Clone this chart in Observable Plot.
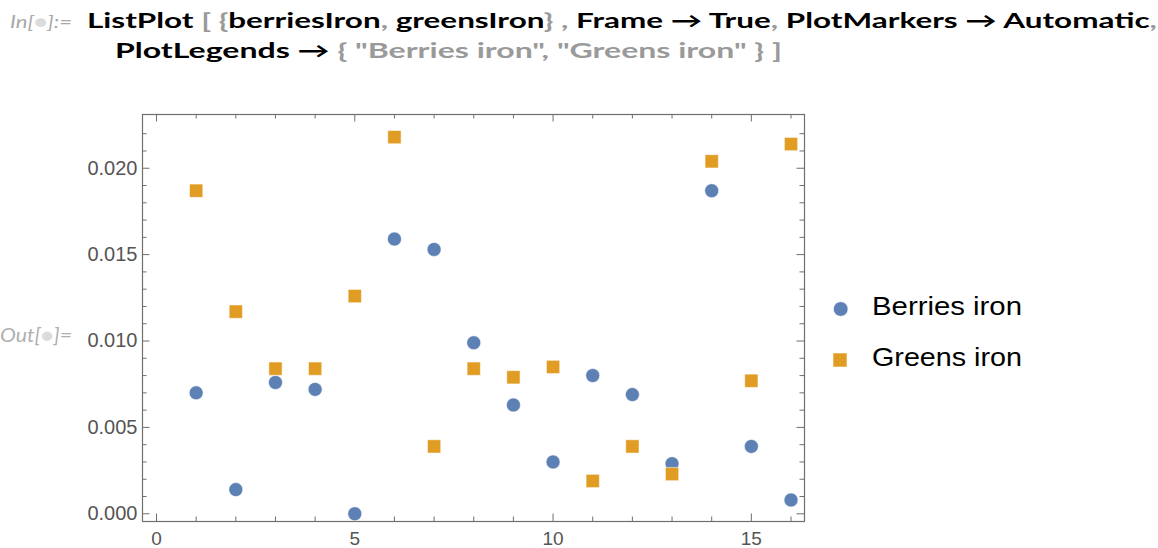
<!DOCTYPE html>
<html>
<head>
<meta charset="utf-8">
<script src="https://cdn.jsdelivr.net/npm/d3@7"></script>
<script src="https://cdn.jsdelivr.net/npm/@observablehq/plot@0.6"></script>
<style>
  html, body { margin: 0; padding: 0; background: #fff; }
  #wrap { position: relative; width: 1158px; height: 548px; overflow: hidden; background: #fff; }
  #chart { position: absolute; left: 0; top: 100px; }
  #overlay { position: absolute; left: 0; top: 0; }
</style>
</head>
<body>
<div id="wrap">
  <div id="chart"></div>
  <svg id="overlay" width="1158" height="548"></svg>
</div>
<script>
// ---- data ----
const index = [1, 2, 3, 4, 5, 6, 7, 8, 9, 10, 11, 12, 13, 14, 15, 16];
const berriesIron = [0.0070, 0.0014, 0.0076, 0.0072, 0.0000, 0.0159, 0.0153, 0.0099, 0.0063, 0.0030, 0.0080, 0.0069, 0.0029, 0.0187, 0.0039, 0.0008];
const greensIron  = [0.0187, 0.0117, 0.0084, 0.0084, 0.0126, 0.0218, 0.0039, 0.0084, 0.0079, 0.0085, 0.0019, 0.0039, 0.0023, 0.0204, 0.0077, 0.0214];
const seriesNames = ["Berries iron", "Greens iron"];
const seriesColors = ["#5e81b5", "#e19c24"];
const xMajorTicks = [0, 5, 10, 15];
const xMinorTicks = [1, 2, 3, 4, 6, 7, 8, 9, 11, 12, 13, 14, 16];
const yMajorTicks = [0, 0.005, 0.010, 0.015, 0.020];
const yMinorTicks = [0.001, 0.002, 0.003, 0.004, 0.006, 0.007, 0.008, 0.009, 0.011, 0.012, 0.013, 0.014, 0.016, 0.017, 0.018, 0.019, 0.021, 0.022];

const berries = index.map((x, i) => ({x, y: berriesIron[i]}));
const greens = index.map((x, i) => ({x, y: greensIron[i]}));

// ---- layout ----
const W = 820, H = 448;
const mL = 142, mR = 16, mT = 14, mB = 27;
const innerW = W - mL - mR, innerH = H - mT - mB;
const major = 7.5, minor = 4.5;
const frameColor = "#6e6e6e";

const chart = Plot.plot({
  width: W, height: H,
  marginLeft: mL, marginRight: mR, marginTop: mT, marginBottom: mB,
  x: {domain: [-0.353, 16.34]},
  y: {domain: [-0.000446, 0.02311]},
  style: {fontFamily: "'Liberation Sans', Arial, Helvetica, sans-serif", color: "#555", background: "white", overflow: "visible"},
  marks: [
    // inward ticks: bottom, top
    Plot.tickX(xMajorTicks, {x: d => d, stroke: frameColor, insetTop: innerH - major}),
    Plot.tickX(xMinorTicks, {x: d => d, stroke: frameColor, insetTop: innerH - minor}),
    Plot.tickX(xMajorTicks, {x: d => d, stroke: frameColor, insetBottom: innerH - major}),
    Plot.tickX(xMinorTicks, {x: d => d, stroke: frameColor, insetBottom: innerH - minor}),
    // inward ticks: left, right
    Plot.tickY(yMajorTicks, {y: d => d, stroke: frameColor, insetRight: innerW - major}),
    Plot.tickY(yMinorTicks, {y: d => d, stroke: frameColor, insetRight: innerW - minor}),
    Plot.tickY(yMajorTicks, {y: d => d, stroke: frameColor, insetLeft: innerW - major}),
    Plot.tickY(yMinorTicks, {y: d => d, stroke: frameColor, insetLeft: innerW - minor}),
    Plot.frame({stroke: frameColor, strokeWidth: 1.2}),
    Plot.axisX({ticks: xMajorTicks, tickSize: 0, tickPadding: 9.5, tickFormat: d => String(d), fontSize: 19, label: null}),
    Plot.axisY({ticks: yMajorTicks, tickSize: 0, tickPadding: 5, tickFormat: d3.format(".3f"), fontSize: 20, label: null}),
    Plot.dot(berries, {x: "x", y: "y", r: 7, fill: seriesColors[0], stroke: "#fff", strokeOpacity: 0.55, strokeWidth: 1}),
    Plot.dot(greens, {x: "x", y: "y", r: 7.5, symbol: "square", fill: seriesColors[1], stroke: "#fff", strokeOpacity: 0.55, strokeWidth: 1})
  ]
});
document.getElementById("chart").appendChild(chart);

// ---- notebook header, Out label and legend ----
const svg = d3.select("#overlay");
const gray = "#9a9a9a";
const codeFont = "Lato, 'Open Sans', sans-serif";

function labelWithDot(x, y, pre, post, size, len, color) {
  const t = svg.append("text").attr("x", x).attr("y", y)
    .attr("font-family", codeFont).attr("font-style", "italic").attr("font-size", size)
    .attr("textLength", len).attr("lengthAdjust", "spacingAndGlyphs");
  t.append("tspan").attr("fill", color).text(pre);
  t.append("tspan").attr("fill", "#dcdcdc").text("\u25CF");
  t.append("tspan").attr("fill", color).text(post);
}
labelWithDot(10, 28, "In[", "]:=", 18, 62, "#a8a8a8");
labelWithDot(0, 342, "Out[", "]=", 19, 72, "#b0b0b0");

const line1 = [
  ["ListPlot", "#000"], [" [ {", gray], ["berriesIron", "#000"], [",", gray], [" greensIron", "#000"],
  ["} ,", gray], [" Frame \u2192 True", "#000"], [",", gray], [" PlotMarkers \u2192 Automatic", "#000"], [",", gray]
];
const line2 = [
  ["PlotLegends \u2192 ", "#000"], ["{ \"Berries iron\", \"Greens iron\" } ]", gray]
];
function codeLine(parts, x, y, len) {
  const t = svg.append("text").attr("x", x).attr("y", y)
    .attr("font-family", codeFont).attr("font-weight", "bold").attr("font-size", 21)
    .attr("textLength", len).attr("lengthAdjust", "spacingAndGlyphs")
    .attr("xml:space", "preserve").style("white-space", "pre");
  parts.forEach(([s, c]) => t.append("tspan").attr("fill", c).text(s));
}
codeLine(line1, 87, 28, 1070);
codeLine(line2, 115, 58, 667);

// legend
const legendY = [315, 366];
const leg = svg.append("g");
leg.append("circle").attr("cx", 840.7).attr("cy", 309).attr("r", 7.3)
  .attr("fill", seriesColors[0]).attr("stroke", "#fff").attr("stroke-opacity", 0.55);
leg.append("rect").attr("x", 833).attr("y", 353).attr("width", 14).attr("height", 14)
  .attr("fill", seriesColors[1]).attr("stroke", "#fff").attr("stroke-opacity", 0.55);
seriesNames.forEach((name, i) => {
  leg.append("text").attr("x", 872).attr("y", legendY[i])
    .attr("font-family", "'Liberation Sans', Arial, Helvetica, sans-serif").attr("font-size", 25)
    .attr("fill", "#000").attr("textLength", 150).attr("lengthAdjust", "spacingAndGlyphs")
    .text(name);
});
</script>
</body>
</html>
